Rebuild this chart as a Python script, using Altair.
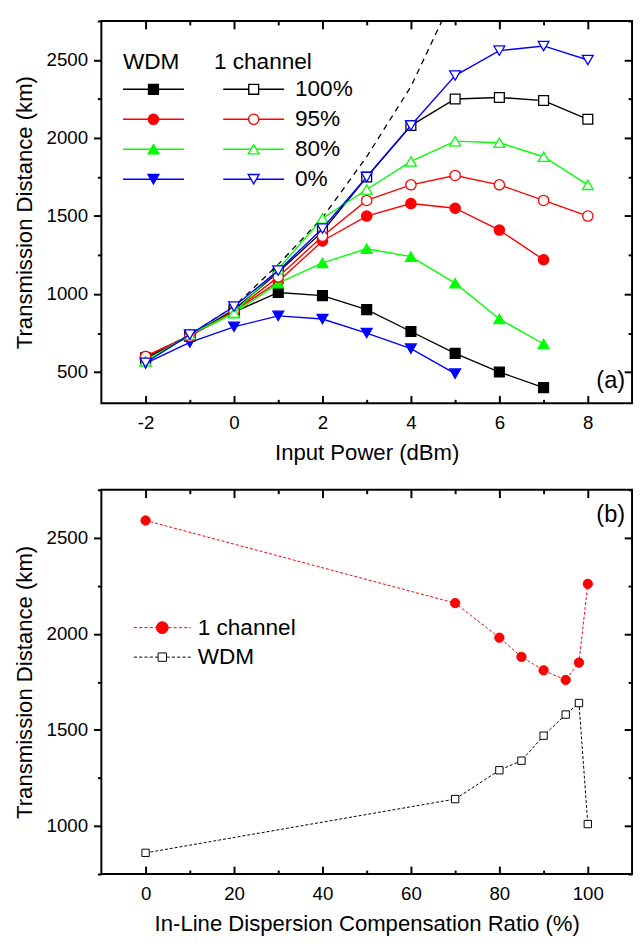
import altair as alt
import pandas as pd

FONT = "Liberation Sans"

# ---------------- data: panel (a) ----------------
power = [-2, -1, 0, 1, 2, 3, 4, 5, 6, 7, 8]
wdm_100 = [590, 735, 885, 1010, 990, 900, 760, 620, 500, 400]
wdm_95 = [600, 735, 890, 1080, 1340, 1500, 1580, 1550, 1410, 1220]
wdm_80 = [570, 735, 877, 1070, 1200, 1290, 1240, 1070, 840, 680]
wdm_0 = [555, 690, 790, 860, 840, 750, 650, 490]
one_100 = [590, 730, 900, 1140, 1400, 1750, 2080, 2250, 2260, 2240, 2120]
one_95 = [600, 730, 890, 1110, 1370, 1600, 1700, 1760, 1700, 1600, 1500]
one_80 = [570, 740, 880, 1160, 1485, 1670, 1850, 1980, 1970, 1880, 1700]
one_0 = [560, 740, 920, 1150, 1420, 1750, 2080, 2400, 2560, 2590, 2500]
dash_x = [-2, -1, 0, 1, 2, 3, 4, 4.7]
dash_y = [590, 740, 920, 1190, 1490, 1880, 2330, 2750]
ratios = ["100%", "95%", "80%", "0%"]

# ---------------- data: panel (b) ----------------
comp = [0, 70, 80, 85, 90, 95, 98, 100]
b_one = [2590, 2160, 1980, 1880, 1810, 1760, 1850, 2260]
b_wdm = [860, 1140, 1290, 1340, 1470, 1580, 1640, 1010]
b_names = ["1 channel", "WDM"]

# ---------------- ticks ----------------
xa_major = [-2, 0, 2, 4, 6, 8]
xa_minor = [-1, 1, 3, 5, 7]
ya_major = [500, 1000, 1500, 2000, 2500]
ya_minor = [750, 1250, 1750, 2250, 2750]
xb_major = [0, 20, 40, 60, 80, 100]
xb_minor = [10, 30, 50, 70, 90]
yb_major = [1000, 1500, 2000, 2500]
yb_minor = [750, 1250, 1750, 2250, 2750]

BLACK, RED, GREEN, BLUE = "#000000", "#ff0000", "#00ff00", "#0000ff"
colors = [BLACK, RED, GREEN, BLUE]
shapes = ["square", "circle", "triangle-up", "triangle-down"]
msize = [100, 110, 121, 121]

W = 540
H1 = 389
H2 = 391

xs_a = alt.Scale(domain=[-3, 9], nice=False, zero=False)
ys_a = alt.Scale(domain=[300, 2750], nice=False, zero=False)
xs_b = alt.Scale(domain=[-10, 110], nice=False, zero=False)
ys_b = alt.Scale(domain=[750, 2750], nice=False, zero=False)

LBL = "'' + datum.value"


def axis(orient, values, size, offset, labels=False, title=None, **kw):
    return alt.Axis(orient=orient, values=values, tickSize=size, offset=offset,
                    domain=False, grid=False, ticks=True, tickColor="black",
                    tickWidth=2, labels=labels, labelExpr=LBL,
                    labelFont=FONT, labelFontSize=19, labelColor="black",
                    title=title, titleFont=FONT, titleFontSize=22.5,
                    titleFontWeight="normal", titleColor="black", **kw)


def axis_layers(df, xs, ys, xmaj, xmin, ymaj, ymin, xtitle, ytitle):
    base = alt.Chart(df).mark_point(opacity=0)
    specs = [
        ("x", axis("bottom", xmaj, 8, -8, True, xtitle, labelPadding=11, titlePadding=9)),
        ("x", axis("bottom", xmin, 4, -4)),
        ("x", axis("top", xmaj, 8, -8)),
        ("x", axis("top", xmin, 4, -4)),
        ("y", axis("left", ymaj, 8, 0, True, ytitle, labelPadding=6, titlePadding=10)),
        ("y", axis("left", ymin, 4, 0)),
        ("y", axis("right", ymaj, 8, -8)),
        ("y", axis("right", ymin, 4, -4)),
    ]
    out = []
    for ch, ax in specs:
        if ch == "x":
            enc = dict(x=alt.X("x:Q", scale=xs, axis=ax), y=alt.Y("y:Q", scale=ys, axis=None))
        else:
            enc = dict(x=alt.X("x:Q", scale=xs, axis=None), y=alt.Y("y:Q", scale=ys, axis=ax))
        out.append(base.encode(**enc))
    return out


def seg(a, b, dash=None):
    if dash is None:
        return f"M{a:.3f},0H{b:.3f}"
    on, off = dash
    parts, x = [], a
    while x < b - 1e-6:
        e = min(x + on, b)
        parts.append(f"M{x:.3f},0H{e:.3f}")
        x = e + off
    return "".join(parts)


def marker(shape, cx, r):
    if shape == "square":
        return f"M{cx - r:.3f},{-r:.3f}H{cx + r:.3f}V{r:.3f}H{cx - r:.3f}Z", r
    if shape == "circle":
        return (f"M{cx + r:.3f},0A{r:.3f},{r:.3f},0,1,1,{cx - r:.3f},0"
                f"A{r:.3f},{r:.3f},0,1,1,{cx + r:.3f},0Z"), r
    h = 0.866 * r
    if shape == "triangle-up":
        return f"M{cx:.3f},{-h:.3f}L{cx + r:.3f},{h:.3f}L{cx - r:.3f},{h:.3f}Z", r / 2
    return f"M{cx:.3f},{h:.3f}L{cx + r:.3f},{-h:.3f}L{cx - r:.3f},{-h:.3f}Z", r / 2


def legend_path(shape, start, length, r, dash=None):
    cx = start + length / 2
    m, gap = marker(shape, cx, r)
    return seg(start, cx - gap, dash) + seg(cx + gap, start + length, dash) + m


# ---------------- panel (a) ----------------
series = [(wdm_100, 0, True), (wdm_95, 1, True), (wdm_80, 2, True), (wdm_0, 3, True),
          (one_100, 0, False), (one_95, 1, False), (one_80, 2, False), (one_0, 3, False)]

layers_a = []
all_a = pd.DataFrame({"x": power, "y": one_0})
layers_a += axis_layers(all_a, xs_a, ys_a, xa_major, xa_minor, ya_major, ya_minor,
                        "Input Power (dBm)", "Transmission Distance (km)")

dash_df = pd.DataFrame({"x": dash_x, "y": dash_y})
layers_a.append(alt.Chart(dash_df).mark_line(color="black", strokeWidth=1.3, strokeDash=[6, 5],
                                             clip=True).encode(
    x=alt.X("x:Q", scale=xs_a, axis=None), y=alt.Y("y:Q", scale=ys_a, axis=None)))

for vals, i, filled in series:
    df = pd.DataFrame({"x": power[:len(vals)], "y": vals})
    enc = dict(x=alt.X("x:Q", scale=xs_a, axis=None), y=alt.Y("y:Q", scale=ys_a, axis=None))
    layers_a.append(alt.Chart(df).mark_line(color=colors[i], strokeWidth=1.4).encode(**enc))
    layers_a.append(alt.Chart(df).mark_point(
        shape=shapes[i], size=msize[i], filled=True, opacity=1,
        fill=colors[i] if filled else "white", stroke=colors[i], strokeWidth=1.3).encode(**enc))

U = 6.0  # legend unit (sqrt(144)/2)
leg_common = dict(orient="none", padding=0, titleFont=FONT, titleFontSize=23,
                  titleFontWeight="normal", titleColor="black", titlePadding=4.5,
                  labelFont=FONT, labelFontSize=23, labelColor="black", rowPadding=6.5,
                  symbolSize=144, symbolStrokeWidth=1.4, symbolOpacity=1, legendY=30.5)
radii = [5.0 / U, 5.25 / U, 5.5 / U, 5.5 / U]

wdm_paths = [legend_path(shapes[i], -11.5 / U, 62 / U, radii[i]) for i in range(4)]
one_paths = [legend_path(shapes[i], -2.0 / U, 62 / U, radii[i]) for i in range(4)]

leg_df = pd.DataFrame({"s": ratios})
leg_wdm = alt.Legend(title="WDM", legendX=22, labelExpr="''", **leg_common)
leg_one = alt.Legend(title="1 channel", legendX=114.5, labelOffset=59.5,
                     labelExpr="datum.label == '100%' ? datum.label : '\u00a0' + datum.label",
                     **leg_common)
layers_a.append(alt.Chart(leg_df).mark_point(opacity=0, filled=True).encode(
    fill=alt.Fill("s:N", scale=alt.Scale(domain=ratios, range=colors), legend=leg_wdm),
    stroke=alt.Stroke("s:N", scale=alt.Scale(domain=ratios, range=colors), legend=leg_wdm),
    shape=alt.Shape("s:N", scale=alt.Scale(domain=ratios, range=wdm_paths), legend=leg_wdm)))
layers_a.append(alt.Chart(leg_df).mark_point(opacity=0, filled=True).encode(
    fill=alt.Fill("s:N", scale=alt.Scale(domain=ratios, range=["white"] * 4), legend=leg_one),
    stroke=alt.Stroke("s:N", scale=alt.Scale(domain=ratios, range=colors), legend=leg_one),
    shape=alt.Shape("s:N", scale=alt.Scale(domain=ratios, range=one_paths), legend=leg_one)))

layers_a.append(alt.Chart(pd.DataFrame({"t": ["(a)"]})).mark_text(
    align="right", baseline="middle", font=FONT, fontSize=24, color="black").encode(
    text="t:N", x=alt.value(W - 7), y=alt.value(H1 - 23)))

top = alt.layer(*layers_a).properties(width=W, height=H1).resolve_scale(
    fill="independent", stroke="independent", shape="independent").resolve_axis(
    x="independent", y="independent")

# ---------------- panel (b) ----------------
layers_b = []
all_b = pd.DataFrame({"x": comp, "y": b_one})
layers_b += axis_layers(all_b, xs_b, ys_b, xb_major, xb_minor, yb_major, yb_minor,
                        "In-Line Dispersion Compensation Ratio (%)", "Transmission Distance (km)")

df_one = pd.DataFrame({"x": comp, "y": b_one})
df_wdm = pd.DataFrame({"x": comp, "y": b_wdm})
encb = dict(x=alt.X("x:Q", scale=xs_b, axis=None), y=alt.Y("y:Q", scale=ys_b, axis=None))
layers_b.append(alt.Chart(df_one).mark_line(color=RED, strokeWidth=1, strokeDash=[3, 2]).encode(**encb))
layers_b.append(alt.Chart(df_one).mark_point(shape="circle", size=90, filled=True, opacity=1,
                                             fill=RED, stroke=RED, strokeWidth=1).encode(**encb))
layers_b.append(alt.Chart(df_wdm).mark_line(color=BLACK, strokeWidth=1, strokeDash=[3, 2]).encode(**encb))
layers_b.append(alt.Chart(df_wdm).mark_point(shape="square", size=56, filled=True, opacity=1,
                                             fill="white", stroke=BLACK, strokeWidth=1).encode(**encb))

b_paths = [legend_path("circle", -11.5 / U, 58 / U, 6.0 / U, (3.3 / U, 2.1 / U)),
           legend_path("square", -11.5 / U, 58 / U, 4.25 / U, (3.3 / U, 2.1 / U))]
leg_b = alt.Legend(title=None, orient="none", legendX=33, legendY=128.8, padding=0,
                   labelFont=FONT, labelFontSize=23, labelColor="black", rowPadding=6,
                   labelOffset=42, symbolSize=144, symbolStrokeWidth=1, symbolOpacity=1)
leg_df_b = pd.DataFrame({"s": b_names})
layers_b.append(alt.Chart(leg_df_b).mark_point(opacity=0, filled=True).encode(
    fill=alt.Fill("s:N", scale=alt.Scale(domain=b_names, range=[RED, "white"]), legend=leg_b),
    stroke=alt.Stroke("s:N", scale=alt.Scale(domain=b_names, range=[RED, BLACK]), legend=leg_b),
    shape=alt.Shape("s:N", scale=alt.Scale(domain=b_names, range=b_paths), legend=leg_b)))

layers_b.append(alt.Chart(pd.DataFrame({"t": ["(b)"]})).mark_text(
    align="right", baseline="middle", font=FONT, fontSize=24, color="black").encode(
    text="t:N", x=alt.value(W - 7), y=alt.value(26)))

bottom = alt.layer(*layers_b).properties(width=W, height=H2).resolve_scale(
    fill="independent", stroke="independent", shape="independent").resolve_axis(
    x="independent", y="independent")

chart = alt.vconcat(top, bottom, spacing=23).properties(
    padding={"top": 3, "left": 4, "right": 0, "bottom": 0},
    background="white").configure_view(stroke="black", strokeWidth=2)

chart.save("out.html", embed_options={"renderer": "svg", "actions": False})
